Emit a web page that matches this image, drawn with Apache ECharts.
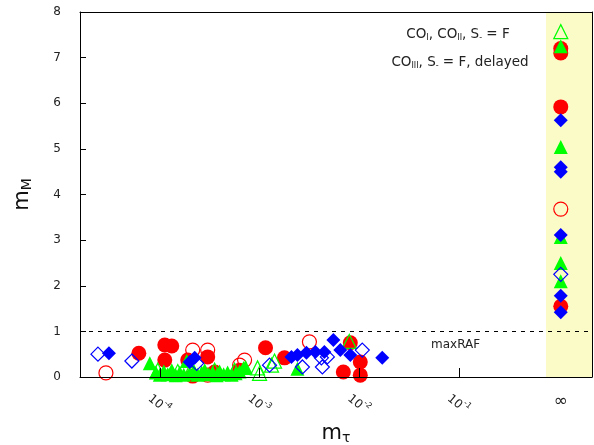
<!DOCTYPE html>
<html>
<head>
<meta charset="utf-8">
<script src="https://cdn.jsdelivr.net/npm/echarts@6/dist/echarts.min.js"></script>
<style>
html,body{margin:0;padding:0;background:#fff;}
#c{width:594px;height:445px;}
</style>
</head>
<body>
<div id="c"></div>
<script>
// x values are log10(m_tau); Infinity marks the "∞" column
const xTickExps = [-4, -3, -2, -1];
const yTicks = [0, 1, 2, 3, 4, 5, 6, 7, 8];
const maxRAF = 1;

const redFilled = [
  [-4.21,0.52],[-3.95,0.70],[-3.88,0.68],[-3.95,0.37],[-3.72,0.37],[-3.52,0.44],
  [-3.67,0.02],[-3.45,0.11],[-3.20,0.15],[-2.94,0.64],[-2.75,0.42],[-2.09,0.75],
  [-1.99,0.33],[-2.16,0.11],[-1.99,0.04],
  [Infinity,7.2],[Infinity,7.1],[Infinity,5.92],[Infinity,1.55]
];
const redOpen = [
  [-4.54,0.09],[-3.67,0.59],[-3.52,0.59],[-3.15,0.37],[-2.50,0.77],[-3.52,0.04],
  [-3.20,0.26],
  [Infinity,3.68]
];
const greenFilled = [
  [-4.10,0.30],[-4.04,0.10],[-4.00,0.05],[-3.96,0.12],[-3.92,0.06],[-3.88,0.15],
  [-3.84,0.04],[-3.80,0.10],[-3.76,0.05],[-3.73,0.35],[-3.70,0.08],[-3.66,0.12],
  [-3.62,0.05],[-3.58,0.10],[-3.55,0.15],[-3.51,0.06],[-3.47,0.10],[-3.43,0.04],
  [-3.40,0.12],[-3.36,0.06],[-3.32,0.10],[-3.28,0.05],[-3.24,0.08],[-3.20,0.12],
  [-3.16,0.20],[-3.14,0.22],[-2.62,0.18],
  [Infinity,7.25],[Infinity,5.04],[Infinity,3.07],[Infinity,2.5],[Infinity,2.1]
];
const greenOpen = [
  [-4.02,0.15],[-3.82,0.12],[-3.68,0.20],[-3.45,0.15],[-3.25,0.15],[-2.88,0.26],
  [-3.02,0.20],[-2.85,0.35],[-2.10,0.78],[-3.00,0.08],
  [Infinity,7.57]
];
const blueFilled = [
  [-4.51,0.52],[-3.70,0.33],[-3.65,0.42],[-2.68,0.44],[-2.62,0.48],[-2.53,0.53],
  [-2.44,0.55],[-2.35,0.55],[-2.26,0.81],[-2.19,0.59],[-2.09,0.48],[-1.77,0.42],
  [Infinity,5.63],[Infinity,4.6],[Infinity,4.5],[Infinity,3.11],[Infinity,1.78],[Infinity,1.42]
];
const blueOpen = [
  [-4.62,0.50],[-4.28,0.35],[-3.63,0.30],[-2.90,0.26],[-2.57,0.22],[-2.37,0.22],
  [-2.32,0.44],[-1.97,0.59],[-2.38,0.42],
  [Infinity,2.25]
];

const INF_X = 0.02;     // axis position used for m_tau = ∞
const X_MIN = -4.80, X_MAX = 0.333;
const BAND_START = -0.128;

const FONT = 'DejaVu Sans';
const conv = arr => arr.map(p => [p[0] === Infinity ? INF_X : p[0], p[1]]);
const TRANS = 'rgba(0,0,0,0)';

function sc(name, data, symbol, size, color, filled, z) {
  return {
    name, type: 'scatter', data: conv(data), symbol, symbolSize: size, z,
    itemStyle: filled ? {color: color, opacity: 1} : {color: TRANS, borderColor: color, borderWidth: 1.2, opacity: 1},
    emphasis: {disabled: true}, animation: false
  };
}

const chart = echarts.init(document.getElementById('c'), null, {renderer: 'canvas'});
const series = [
  {
    type: 'scatter', data: [], z: 1, silent: true,
    markArea: {silent: true, itemStyle: {color: '#fbfbc8'}, data: [[{xAxis: BAND_START}, {xAxis: X_MAX}]]},
    markLine: {silent: true, symbol: 'none', label: {show: false},
      lineStyle: {type: [4, 5], color: '#000', width: 1}, data: [{yAxis: maxRAF}]}
  },
  sc('redFilled', redFilled, 'circle', 15, '#ff0000', true, 2),
  sc('redOpen', redOpen, 'circle', 14, '#ff0000', false, 2),
  sc('greenFilled', greenFilled, 'triangle', 14, '#00ff00', true, 3),
  sc('greenOpen', greenOpen, 'triangle', 14, '#00ff00', false, 3),
  sc('blueFilled', blueFilled, 'diamond', 14, '#0000ff', true, 4),
  sc('blueOpen', blueOpen, 'diamond', 14, '#0000ff', false, 4)
];

chart.setOption({
  animation: false,
  textStyle: {fontFamily: FONT},
  grid: {left: 80, right: 2, top: 12, bottom: 68, show: false, containLabel: false, outerBoundsMode: 'none'},
  xAxis: [{
    type: 'value', min: X_MIN, max: X_MAX, z: 10,
    axisLine: {show: true, onZero: false, lineStyle: {color: '#000', width: 1}},
    axisTick: {show: true, inside: true, length: 9, customValues: xTickExps, lineStyle: {color: '#000'}},
    splitLine: {show: false},
    axisLabel: {
      customValues: xTickExps, rotate: -40, margin: 26, align: 'center', verticalAlign: 'middle',
      formatter: v => '{b|10}{s|' + v + '}',
      rich: {
        b: {fontSize: 12, fontFamily: FONT, color: '#222', lineHeight: 16, verticalAlign: 'bottom'},
        s: {fontSize: 8, fontFamily: FONT, color: '#222', lineHeight: 16, verticalAlign: 'top', padding: [0, 0, 6, 0]}
      }
    },
    name: '{m|m}{s|τ}', nameLocation: 'middle', nameGap: 44,
    nameTextStyle: {rich: {
      m: {fontSize: 21, fontFamily: FONT, color: '#111'},
      s: {fontSize: 14, fontFamily: FONT, color: '#111', padding: [8, 0, 0, 0]}
    }}
  }, {
    type: 'value', min: X_MIN, max: X_MAX, position: 'bottom', z: 10,
    axisLine: {show: false}, axisTick: {show: false}, splitLine: {show: false},
    axisLabel: {customValues: [INF_X], margin: 16, fontSize: 17, color: '#222', fontFamily: FONT,
      formatter: () => '∞'}
  }, {
    type: 'value', min: X_MIN, max: X_MAX, position: 'top', z: 10,
    axisLine: {show: true, onZero: false, lineStyle: {color: '#000', width: 1}},
    axisTick: {show: false}, axisLabel: {show: false}, splitLine: {show: false}
  }],
  yAxis: [{
    type: 'value', min: 0, max: 8, interval: 1, z: 10,
    axisLine: {show: true, onZero: false, lineStyle: {color: '#000', width: 1}},
    axisTick: {show: true, inside: true, length: 6, lineStyle: {color: '#000'}},
    splitLine: {show: false},
    axisLabel: {margin: 19, fontSize: 12, color: '#222', fontFamily: FONT, customValues: yTicks},
    name: '{m|m}{s|M}', nameLocation: 'middle', nameGap: 46,
    nameTextStyle: {rich: {
      m: {fontSize: 21, fontFamily: FONT, color: '#111'},
      s: {fontSize: 14, fontFamily: FONT, color: '#111', padding: [8, 0, 0, 0]}
    }}
  }, {
    type: 'value', min: 0, max: 8, position: 'right', z: 10,
    axisLine: {show: true, onZero: false, lineStyle: {color: '#000', width: 1}},
    axisTick: {show: false}, axisLabel: {show: false}, splitLine: {show: false}
  }],
  series: series,
  graphic: [
    {type: 'text', left: 431, top: 339, z: 20,
      style: {text: 'maxRAF', font: '12px "DejaVu Sans"', fill: '#222'}},
    {type: 'text', x: 458, y: 34, z: 20,
      style: {text: 'CO{s|I}, CO{s|II}, S{s|-} = F', align: 'center', verticalAlign: 'middle',
        font: '13.5px "DejaVu Sans"', fill: '#222',
        rich: {s: {fontSize: 8, fontFamily: FONT, fill: '#222', padding: [7, 0, 0, 0]}}}},
    {type: 'text', x: 460, y: 62, z: 20,
      style: {text: 'CO{s|III}, S{s|-} = F, delayed', align: 'center', verticalAlign: 'middle',
        font: '13.5px "DejaVu Sans"', fill: '#222',
        rich: {s: {fontSize: 8, fontFamily: FONT, fill: '#222', padding: [7, 0, 0, 0]}}}}
  ]
});
</script>
</body>
</html>
